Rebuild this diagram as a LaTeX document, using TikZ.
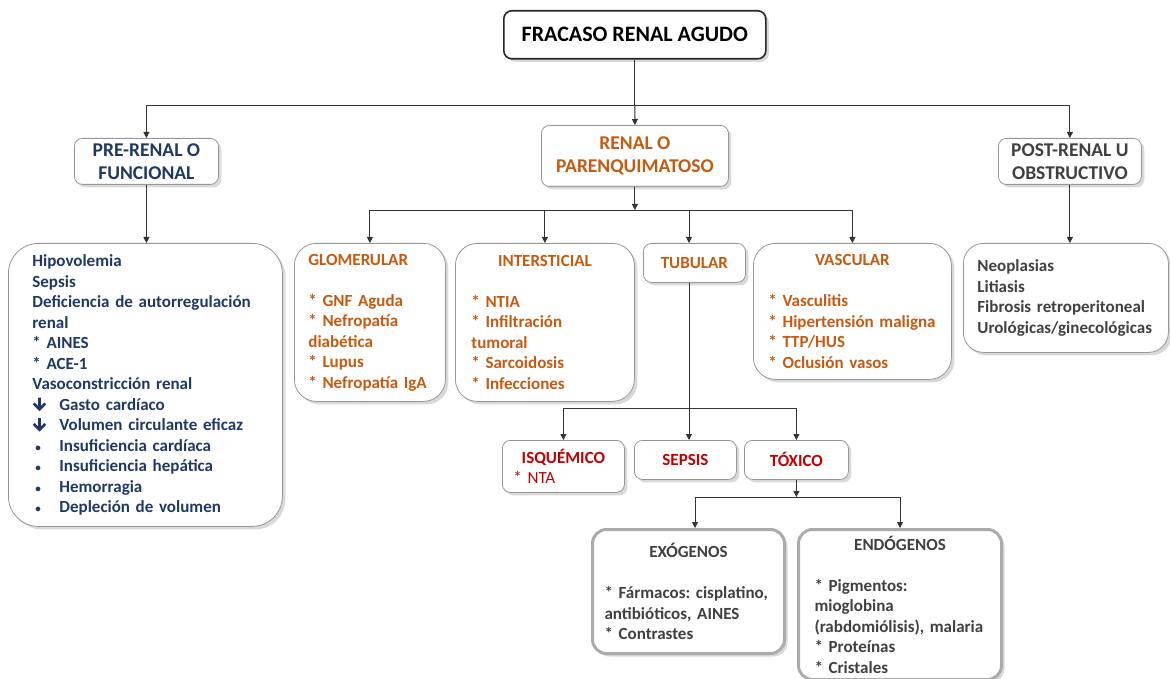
\documentclass[tikz,border=0pt]{standalone}
\usepackage{fontspec}
\setmainfont{Carlito}
\usetikzlibrary{arrows.meta,shadows}
\definecolor{navy}{RGB}{31,56,100}
\definecolor{rust}{RGB}{197,90,17}
\definecolor{crimson}{RGB}{192,0,0}
\definecolor{slate}{RGB}{64,64,64}
\definecolor{rim}{RGB}{150,150,150}
\hyphenpenalty=10000
\exhyphenpenalty=10000
\frenchspacing
\newcommand{\ttl}[1]{\makebox[\linewidth][c]{#1}}
\newcommand{\dn}{\makebox[27pt][l]{\tikz[baseline=0pt, sharp corners]\draw[navy, line width=2.6pt, line join=miter]
  (0pt,12.5pt) -- (0pt,0.8pt) (-5.8pt,6.6pt) -- (0pt,0.8pt) -- (5.8pt,6.6pt);}}
\newcommand{\bul}{\makebox[27pt][l]{\hspace{3pt}{\fontsize{11}{11}\selectfont •}}}
\tikzset{
  box/.style={draw=rim, fill=white, rounded corners=8pt, line width=0.8pt,
    drop shadow={shadow xshift=3pt, shadow yshift=-3pt, opacity=0.3},
    font=\bfseries\fontsize{17}{20.5}\selectfont, anchor=north west, inner ysep=0pt},
  headbox/.style={box, align=center, font=\bfseries\fontsize{19.5}{23}\selectfont},
  listbox/.style={box, rounded corners=22pt, align=left},
  heavybox/.style={listbox, draw=rim!80, line width=3pt, rounded corners=14pt},
  link/.style={draw=black!80, line width=0.9pt},
  arr/.style={link, -{Triangle[length=6pt,width=6pt]}},
}
\begin{document}
\begin{tikzpicture}[x=1pt,y=-1pt]
  \useasboundingbox (0,0) rectangle (1170,679);
  %%% top level
  \node[box, draw=black!85, line width=1.6pt, font=\bfseries\fontsize{22}{25}\selectfont,
    minimum width=262pt, minimum height=48pt] (fra) at (503,10) {FRACASO RENAL AGUDO};
  \node[headbox, text=navy, minimum width=144pt, minimum height=46pt] (pre) at (74,138) {PRE-RENAL O\\FUNCIONAL};
  \node[headbox, text=rust, minimum width=187pt, minimum height=61pt] (ren) at (541,125) {RENAL O\\PARENQUIMATOSO};
  \node[headbox, text=slate, minimum width=143pt, minimum height=46pt] (post) at (998,138) {POST-RENAL U\\OBSTRUCTIVO};
  %%% lists
  \node[listbox, text=navy, rounded corners=30pt, minimum height=283pt, text width=226pt, inner xsep=24pt] (prebox) at (8,243)
    {Hipovolemia\\Sepsis\\\mbox{Deficiencia de autorregulación}\\renal\\{}* AINES\\{}* ACE-1\\Vasoconstricción renal\\
     \dn Gasto cardíaco\\\dn \mbox{Volumen circulante eficaz}\\\bul Insuficiencia cardíaca\\\bul Insuficiencia hepática\\
     \bul Hemorragia\\\bul Depleción de volumen};
  \node[listbox, text=slate, rounded corners=20pt, minimum height=109pt, text width=177pt, inner xsep=14pt] (postbox) at (963,243)
    {Neoplasias\\Litiasis\\\mbox{Fibrosis retroperitoneal}\\Urológicas/ginecológicas};
  \node[listbox, text=rust, minimum height=158pt, text width=123pt, inner xsep=14pt] (glom) at (294,243)
    {GLOMERULAR\\[20.5pt]{}* GNF Aguda\\{}* Nefropatía\\diabética\\{}* Lupus\\\mbox{* Nefropatía IgA}};
  \node[listbox, text=rust, minimum height=158pt, text width=147pt, inner xsep=16pt] (inter) at (455,243)
    {\ttl{INTERSTICIAL}\\[20.5pt]{}* NTIA\\{}* Infiltración\\tumoral\\{}* Sarcoidosis\\{}* Infecciones};
  \node[box, text=rust, minimum width=102pt, minimum height=39pt] (tub) at (643,243) {TUBULAR};
  \node[listbox, text=rust, minimum height=136pt, text width=168pt, inner xsep=15pt] (vasc) at (753,243)
    {\ttl{VASCULAR}\\[20.5pt]{}* Vasculitis\\\mbox{* Hipertensión maligna}\\{}* TTP/HUS\\{}* Oclusión vasos};
  %%% tubular
  \node[box, text=crimson, align=left, minimum height=52pt, text width=100pt, inner xsep=11pt] (isq) at (502,440)
    {\ttl{ISQUÉMICO}\\\mdseries * NTA};
  \node[box, text=crimson, minimum width=102pt, minimum height=39pt] (sep) at (634,440) {SEPSIS};
  \node[box, text=crimson, minimum width=104pt, minimum height=39pt] (tox) at (744,440) {TÓXICO};
  \node[heavybox, text=slate, minimum height=124pt, text width=168pt, inner xsep=12pt] (exo) at (591,528)
    {\ttl{EXÓGENOS}\\[20.5pt]\mbox{* Fármacos: cisplatino,}\\\mbox{antibióticos, AINES}\\{}* Contrastes};
  \node[heavybox, text=slate, minimum height=150pt, text width=171pt, inner xsep=16pt] (endo) at (797,528)
    {\ttl{ENDÓGENOS}\\[20.5pt]{}* Pigmentos:\\mioglobina\\\mbox{(rabdomiólisis), malaria}\\{}* Proteínas\\{}* Cristales};
  %%% connectors
  \draw[link] (fra.south) -- (fra.south |- 0,105) coordinate (j1);
  \draw[arr] (j1) -- (ren.north);
  \draw[arr] (j1) -| (pre.north);
  \draw[arr] (j1) -| (post.north);
  \draw[arr] (pre.south) -- (pre.south |- prebox.north);
  \draw[arr] (post.south) -- (post.south |- postbox.north);
  \draw[arr] (ren.south) -- (ren.south |- 0,210) coordinate (j2);
  \draw[arr] (j2) -| (glom.north);
  \draw[arr] (j2) -| (inter.north);
  \draw[arr] (j2) -| (tub.north -| 689,0);
  \draw[arr] (j2) -| (vasc.north);
  \coordinate (j3) at (689,408);
  \draw[link] (tub.south -| j3) -- (j3);
  \draw[arr] (j3) -- (j3 |- sep.north);
  \draw[arr] (j3) -| (isq.north);
  \draw[arr] (j3) -| (tox.north);
  \draw[arr] (tox.south) -- (tox.south |- 0,497) coordinate (j4);
  \draw[arr] (j4) -| (exo.north -| 695,0);
  \draw[arr] (j4) -| (endo.north);
\end{tikzpicture}
\end{document}
